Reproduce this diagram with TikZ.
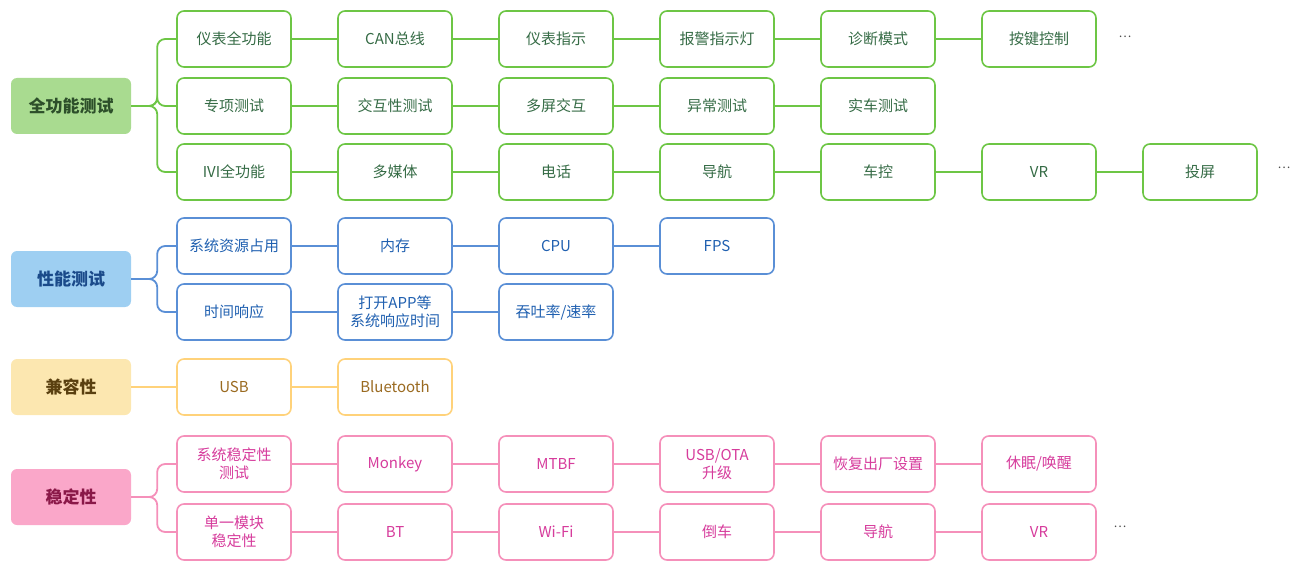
\documentclass[tikz,border=0pt]{standalone}
\usepackage{fontspec}
\setmainfont{Noto Sans CJK SC}
\definecolor{gB}{HTML}{6DC645}
\definecolor{gF}{HTML}{A9DB90}
\definecolor{gT}{HTML}{356B45}
\definecolor{gR}{HTML}{2D4F2A}
\definecolor{bB}{HTML}{5A8FD6}
\definecolor{bF}{HTML}{9ECFF2}
\definecolor{bT}{HTML}{2060B0}
\definecolor{bR}{HTML}{1A4A8A}
\definecolor{yB}{HTML}{FFD27A}
\definecolor{yF}{HTML}{FCE7B0}
\definecolor{yT}{HTML}{9A6A20}
\definecolor{yR}{HTML}{5A4010}
\definecolor{pB}{HTML}{F590BA}
\definecolor{pF}{HTML}{FAA7C9}
\definecolor{pT}{HTML}{D63C9C}
\definecolor{pR}{HTML}{8A1848}
\tikzset{
  box/.style={draw, line width=1.6pt, rounded corners=7pt, minimum width=114pt,
    minimum height=56pt, inner sep=0pt, align=center, font=\fontsize{15}{18}\selectfont},
  root/.style={rounded corners=6pt, minimum width=120pt, minimum height=56pt,
    inner sep=0pt, align=center, font=\fontsize{17}{20}\selectfont\bfseries},
  gbox/.style={box, draw=gB, text=gT},
  bbox/.style={box, draw=bB, text=bT},
  ybox/.style={box, draw=yB, text=yT},
  pbox/.style={box, draw=pB, text=pT},
  gline/.style={draw=gB, line width=1.8pt, rounded corners=8pt},
  bline/.style={draw=bB, line width=1.8pt, rounded corners=8pt},
  yline/.style={draw=yB, line width=1.8pt, rounded corners=8pt},
  pline/.style={draw=pB, line width=1.8pt, rounded corners=8pt},
  dots/.style={text=black!70, font=\fontsize{12}{14}\selectfont, inner sep=0pt}
}
\begin{document}
\begin{tikzpicture}[x=1pt,y=-1pt]
\useasboundingbox (0,0) rectangle (1300,572);
% roots
\node[root, fill=gF, text=gR] (rg) at (71,106) {全功能测试};
\node[root, fill=bF, text=bR] (rb) at (71,279) {性能测试};
\node[root, fill=yF, text=yR] (ry) at (71,387) {兼容性};
\node[root, fill=pF, text=pR] (rp) at (71,497) {稳定性};
% green rows
\foreach \t [count=\i] in {仪表全功能,CAN总线,仪表指示,报警指示灯,诊断模式,按键控制}
  \node[gbox] (ga\i) at ({234+161*(\i-1)},39) {\t};
\foreach \t [count=\i] in {专项测试,交互性测试,多屏交互,异常测试,实车测试}
  \node[gbox] (gb\i) at ({234+161*(\i-1)},106) {\t};
\foreach \t [count=\i] in {IVI全功能,多媒体,电话,导航,车控,VR,投屏}
  \node[gbox] (gc\i) at ({234+161*(\i-1)},172) {\t};
% blue rows
\foreach \t [count=\i] in {系统资源占用,内存,CPU,FPS}
  \node[bbox] (ba\i) at ({234+161*(\i-1)},246) {\t};
\foreach \t [count=\i] in {时间响应,打开APP等\\系统响应时间,吞吐率/速率}
  \node[bbox] (bb\i) at ({234+161*(\i-1)},312) {\t};
% yellow
\foreach \t [count=\i] in {USB,Bluetooth}
  \node[ybox] (ya\i) at ({234+161*(\i-1)},387) {\t};
% pink
\foreach \t [count=\i] in {系统稳定性\\测试,Monkey,MTBF,USB/OTA\\升级,恢复出厂设置,休眠/唤醒}
  \node[pbox] (pa\i) at ({234+161*(\i-1)},464) {\t};
\foreach \t [count=\i] in {单一模块\\稳定性,BT,Wi-Fi,倒车,导航,VR}
  \node[pbox] (pb\i) at ({234+161*(\i-1)},532) {\t};
% dots
\node[dots] (d1) at (1125,37) {…};
\node[dots] (d2) at (1284,168) {…};
\node[dots] (d3) at (1120,527) {…};
% root brackets
\foreach \c in {ga1,gb1,gc1} \draw[gline] (rg.east) -- ++(26,0) |- (\c.west);
\foreach \c in {ba1,bb1} \draw[bline] (rb.east) -- ++(26,0) |- (\c.west);
\draw[yline] (ry.east) -- (ya1.west);
\foreach \c in {pa1,pb1} \draw[pline] (rp.east) -- ++(26,0) |- (\c.west);
% chains
\foreach \a/\b in {ga1/ga2,ga2/ga3,ga3/ga4,ga4/ga5,ga5/ga6,
                   gb1/gb2,gb2/gb3,gb3/gb4,gb4/gb5,
                   gc1/gc2,gc2/gc3,gc3/gc4,gc4/gc5,gc5/gc6,gc6/gc7}
  \draw[gline] (\a.east) -- (\b.west);
\foreach \a/\b in {ba1/ba2,ba2/ba3,ba3/ba4,bb1/bb2,bb2/bb3}
  \draw[bline] (\a.east) -- (\b.west);
\draw[yline] (ya1.east) -- (ya2.west);
\foreach \a/\b in {pa1/pa2,pa2/pa3,pa3/pa4,pa4/pa5,pa5/pa6,
                   pb1/pb2,pb2/pb3,pb3/pb4,pb4/pb5,pb5/pb6}
  \draw[pline] (\a.east) -- (\b.west);
\end{tikzpicture}
\end{document}
